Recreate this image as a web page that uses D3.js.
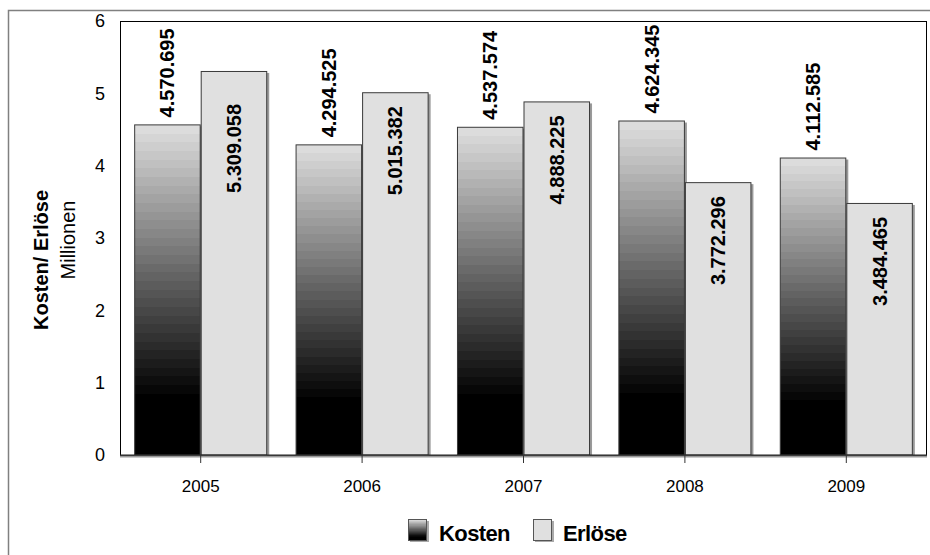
<!DOCTYPE html>
<html><head><meta charset="utf-8">
<script src="https://cdn.jsdelivr.net/npm/d3@7/dist/d3.min.js"></script>
<style>body{margin:0;background:#fff}svg{display:block;font-family:"Liberation Sans",Arial,sans-serif}</style>
</head><body>
<script>
const years = ["2005","2006","2007","2008","2009"];
const kosten = [4570695, 4294525, 4537574, 4624345, 4112585];
const erloese = [5309058, 5015382, 4888225, 3772296, 3484465];
const yTicks = [0,1,2,3,4,5,6];
const seriesNames = ["Kosten","Erlöse"];
const fmt = v => d3.format(",")(v).replace(/,/g,".");

const W=930,H=555;
const svg=d3.select("body").append("svg").attr("width",W).attr("height",H);
const defs=svg.append("defs");
const grad=defs.append("linearGradient").attr("id","kg").attr("x1",0).attr("y1",0).attr("x2",0).attr("y2",1);
const N=32, frac=0.84;
for(let i=0;i<N;i++){
  const c=Math.round(220*(1-i/(N-1)));
  const col=d3.rgb(c,c,c).toString();
  grad.append("stop").attr("offset",(i/N*frac)).attr("stop-color",col);
  grad.append("stop").attr("offset",((i+1)/N*frac)).attr("stop-color",col);
}
grad.append("stop").attr("offset",1).attr("stop-color","#000");

// outer border
svg.append("rect").attr("x",8.5).attr("y",10.5).attr("width",940).attr("height",570)
  .attr("fill","none").attr("stroke","#808080").attr("stroke-width",1.5);

const L=120,R=927,T=21,B=455;
const x=d3.scaleBand().domain(years).range([L,R]).paddingInner(0).paddingOuter(0);
const inner=d3.scaleBand().domain(seriesNames).range([0,x.bandwidth()]).paddingOuter(0.213).paddingInner(0);
const y=d3.scaleLinear().domain([0,6]).range([B,T]);

svg.append("rect").attr("x",L+0.5).attr("y",T+0.5).attr("width",R-L-1).attr("height",B-T)
  .attr("fill","#fff").attr("stroke","#000").attr("stroke-width",1);

const data=years.map((yr,i)=>({yr,vals:[kosten[i],erloese[i]]}));
const g=svg.append("g");
data.forEach(d=>{
  d.vals.forEach((v,j)=>{
    const s=seriesNames[j];
    const bx=x(d.yr)+inner(s), bw=inner.bandwidth(), by=y(v/1e6);
    g.append("rect").attr("x",bx+2).attr("y",by+2).attr("width",bw).attr("height",B-by-2).attr("fill","#9a9a9a");
    g.append("rect").attr("x",bx+0.5).attr("y",by+0.5).attr("width",bw-1).attr("height",B-by-0.5)
      .attr("fill",j===0?"url(#kg)":"#e0e0e0").attr("stroke","#3a3a3a").attr("stroke-width",1);
  });
});
// zero line with shadow
svg.append("line").attr("x1",L).attr("x2",R).attr("y1",B+1.5).attr("y2",B+1.5).attr("stroke","#999").attr("stroke-width",2);
svg.append("line").attr("x1",L).attr("x2",R).attr("y1",B).attr("y2",B).attr("stroke","#222").attr("stroke-width",1.2);

// x ticks at category centers
const xAxis=svg.append("g");
years.forEach(yr=>{
  const cx=x(yr)+x.bandwidth()/2;
  xAxis.append("line").attr("x1",cx).attr("x2",cx).attr("y1",B).attr("y2",B+8).attr("stroke","#333");
  xAxis.append("text").attr("x",cx).attr("y",492).attr("text-anchor","middle").attr("font-size",17).attr("fill","#000").text(yr);
});
// y tick labels
yTicks.forEach(t=>{
  svg.append("text").attr("x",105).attr("y",y(t)).attr("dy","0.36em").attr("text-anchor","end")
    .attr("font-size",18).attr("fill","#000").text(t);
});

// data labels
const erlNudge=[19,0,0,0,0];
data.forEach((d,i)=>{
  d.vals.forEach((v,j)=>{
    const s=seriesNames[j];
    const cx=x(d.yr)+inner(s)+inner.bandwidth()/2+7, by=y(v/1e6);
    const t=svg.append("text").attr("font-size",20).attr("font-weight","bold").attr("fill","#000").text(fmt(v));
    if(j===0){
      t.attr("transform",`translate(${cx},${by-7}) rotate(-90)`).attr("text-anchor","start");
    } else {
      t.attr("transform",`translate(${cx},${by+14+erlNudge[i]}) rotate(-90)`).attr("text-anchor","end");
    }
  });
});

// axis titles
svg.append("text").attr("transform","translate(48,260) rotate(-90)").attr("text-anchor","middle")
  .attr("font-size",20).attr("font-weight","bold").text("Kosten/ Erlöse");
svg.append("text").attr("transform","translate(75,240) rotate(-90)").attr("text-anchor","middle")
  .attr("font-size",20).text("Millionen");

// legend
const lg=svg.append("g");
const items=[{name:seriesNames[0],fill:"url(#kg)",sx:408,tx:439},{name:seriesNames[1],fill:"#e0e0e0",sx:533,tx:563}];
items.forEach(it=>{
  lg.append("rect").attr("x",it.sx+2).attr("y",521).attr("width",19).attr("height",21).attr("fill","#aaa");
  lg.append("rect").attr("x",it.sx+0.5).attr("y",519.5).attr("width",18).attr("height",21).attr("fill",it.fill).attr("stroke","#555");
  lg.append("text").attr("x",it.tx).attr("y",541).attr("font-size",22).attr("font-weight","bold")
    .attr("letter-spacing",-0.6).text(it.name);
});
</script>
</body></html>
